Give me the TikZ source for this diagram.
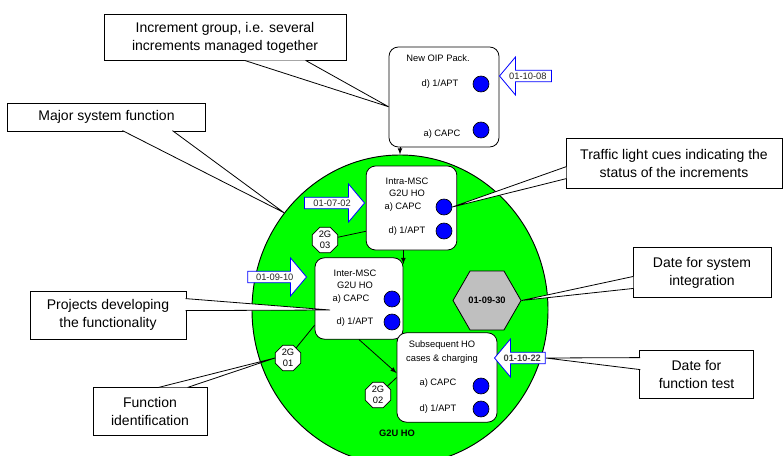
\documentclass[tikz,border=0pt]{standalone}
\usepackage{fontspec}
\setmainfont{Liberation Sans}
\usetikzlibrary{shapes.geometric,shapes.arrows,calc,positioning}

\begin{document}
\begin{tikzpicture}[x=0.75pt, y=-0.75pt,
    note/.style = {rectangle, draw, fill=white, align=center, inner sep=0pt, line width=0.6pt, font=\fontsize{10.5}{13.5}\selectfont},
    incr/.style = {rectangle, draw, fill=white, rounded corners=7pt, line width=0.6pt},
    small/.style = {inner sep=0pt, align=center, font=\fontsize{7}{9}\selectfont},
    light/.style = {circle, draw, fill=blue, minimum size=12pt, inner sep=0pt, line width=0.5pt},
    fid/.style = {regular polygon, regular polygon sides=8, draw, fill=white, minimum size=19pt, inner sep=0pt, align=center, line width=0.5pt, font=\fontsize{7}{8.5}\selectfont},
    date/.style = {single arrow, draw=blue, fill=white, single arrow head extend=10pt, single arrow tip angle=100, inner sep=1.5pt, line width=0.6pt, anchor=tip, text=black!85, font=\fontsize{7}{8}\selectfont},
    link/.style = {line width=0.6pt}]
    \useasboundingbox (0,0) rectangle (784,456);

    % major system function
    \node (func) [ellipse, draw, fill=green, line width=0.7pt, minimum width=222pt, minimum height=232.5pt] at (400,310) {};
    \node (fname) [small, font=\fontsize{7}{9}\selectfont\bfseries] at (397,433) {G2U HO};

    % increment group
    \node (oip) [incr, minimum width=82.5pt, minimum height=75pt] at (444,97) {};
    \node (oipt) [small] at (438,58) {New OIP Pack.};
    \node (oipd) [small] at (440,84) {d) 1/APT};
    \node (oipdl) [light] at (481,84) {};
    \node (oipa) [small] at (442,134) {a) CAPC};
    \node (oipal) [light] at (481,130) {};

    % increments
    \node (intra) [incr, minimum width=68pt, minimum height=63pt] at (411.5,208) {};
    \node (intrat) [small] at (407,187) {Intra-MSC\\G2U HO};
    \node (intraa) [small] at (403,207) {a) CAPC};
    \node (intraal) [light] at (444,207) {};
    \node (intrad) [small] at (407,231) {d) 1/APT};
    \node (intradl) [light] at (444,231) {};

    \node (inter) [incr, minimum width=66pt, minimum height=61pt] at (359,298.5) {};
    \node (intert) [small] at (355,279) {Inter-MSC\\G2U HO};
    \node (intera) [small] at (351,299) {a) CAPC};
    \node (interal) [light] at (392,299) {};
    \node (interd) [small] at (355,322) {d) 1/APT};
    \node (interdl) [light] at (392,322) {};

    \node (subs) [incr, minimum width=75pt, minimum height=67pt] at (447,377.5) {};
    \node (subst) [small, font=\fontsize{7}{10.5}\selectfont] at (442,352) {Subsequent HO\\cases \& charging};
    \node (subsa) [small] at (438,383) {a) CAPC};
    \node (subsal) [light] at (481,386) {};
    \node (subsd) [small] at (438,409) {d) 1/APT};
    \node (subsdl) [light] at (481,409) {};

    % function identification
    \node (fid03) [fid] at (325,240) {2G\\03};
    \node (fid01) [fid] at (288,358) {2G\\01};
    \node (fid02) [fid] at (378,395) {2G\\02};

    \draw [link, -latex] (func.north |- oip.south) -- (func.north);
    \draw [link, -latex] (inter.north east |- intra.south) -- ([yshift=-5pt]inter.north east);
    \draw [link, -latex] (inter.south) -- (subs.175);
    \draw [link] (fid03) -- (intra.207);
    \draw [link] (fid01) -- (inter.211);
    \draw [link] (fid02) -- (subs.west);

    % dates
    \node (d1008) [date, shape border rotate=180, minimum height=39pt] at (499,76) {01-10-08};
    \node (d0702) [date, minimum height=45pt] at (365,203) {01-07-02};
    \node (d0910) [date, minimum height=44pt] at (307,277) {01-09-10};
    \node (d1022) [date, shape border rotate=180, minimum height=38pt, font=\fontsize{7}{8}\selectfont\bfseries, text=black!75] at (494,358) {01-10-22};
    \node (sysdate) [regular polygon, regular polygon sides=6, draw, fill=black!25, minimum size=51pt, inner sep=0pt, line width=0.6pt, font=\fontsize{7}{8}\selectfont\bfseries] at (487,300.5) {01-09-30};

    % explanations
    \coordinate (projtip) at (330,310);
    \node (incgrp) [note, minimum width=181.5pt, minimum height=35pt] at (225,37.5) {Increment group, i.e. several\\increments managed together};
    \node (major) [note, minimum width=148pt, minimum height=21pt] at (106.5,117) {Major system function};
    \node (traffic) [note, minimum width=162pt, minimum height=37.5pt] at (674,163) {Traffic light cues indicating the\\status of the increments};
    \node (sysint) [note, minimum width=103.5pt, minimum height=37pt] at (702,272.5) {Date for system\\integration};
    \node (proj) [note, minimum width=117pt, minimum height=36pt] at (108,315) {Projects developing\\the functionality};
    \node (fident) [note, minimum width=85.5pt, minimum height=36pt] at (150,411) {Function\\identification};
    \node (ftest) [note, minimum width=85pt, minimum height=36pt] at (696.5,374) {Date for\\function test};

    % pointers of the explanations
    \filldraw [link, fill=white] ($(incgrp.south west)+(141,-0.8)$) -- (oip.190) -- ($(incgrp.south west)+(202,-0.8)$);
    \filldraw [link, fill=white] ($(major.south west)+(115,-0.8)$) -- (func.140) -- ($(major.south west)+(165,-0.8)$);
    \filldraw [link, fill=white] ($(traffic.north west)+(0.8,29)$) -- (intraal.east) -- ($(traffic.north west)+(0.8,41)$);
    \filldraw [link, fill=white] ($(sysint.north west)+(0.8,29)$) -- (sysdate.east) -- ($(sysint.north west)+(0.8,41)$);
    \filldraw [link, fill=white] ($(proj.north east)+(-0.8,8)$) -- (projtip) -- ($(proj.north east)+(-0.8,20)$);
    \filldraw [link, fill=white] ($(fident.north west)+(66,0.8)$) -- (fid01.west) -- ($(fident.north west)+(95,0.8)$);
    \filldraw [link, fill=white] ($(ftest.north west)+(0.8,8)$) -- (d1022.tail) -- ($(ftest.north west)+(0.8,20)$);
\end{tikzpicture}
\end{document}
